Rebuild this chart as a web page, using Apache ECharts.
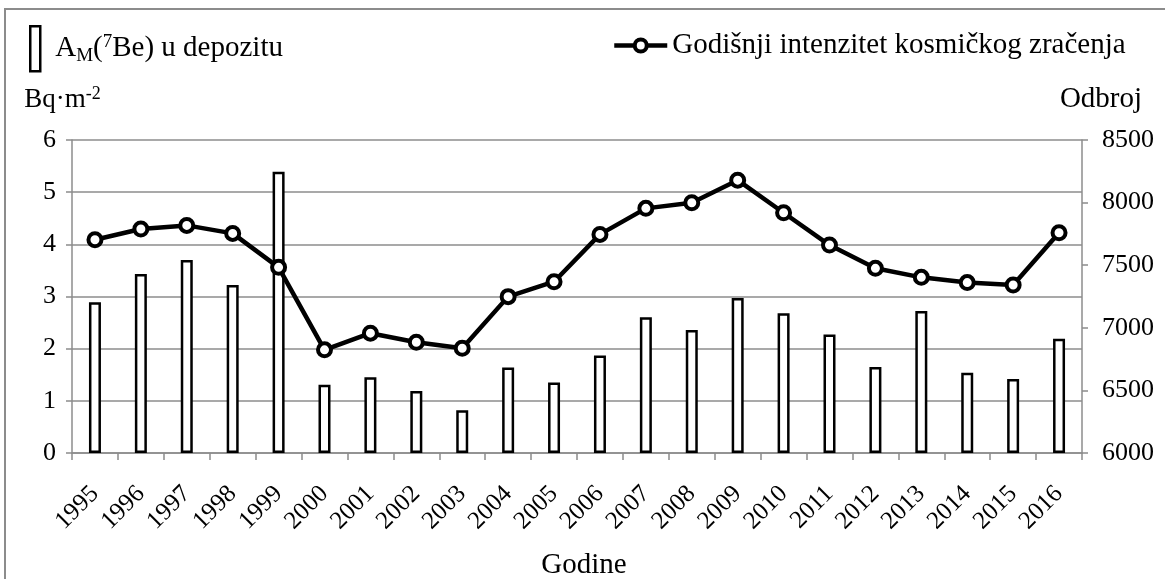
<!DOCTYPE html>
<html>
<head>
<meta charset="utf-8">
<script src="https://cdn.jsdelivr.net/npm/echarts@6/dist/echarts.min.js"></script>
<style>
  html, body { margin: 0; padding: 0; background: #fff; }
  #chart { width: 1165px; height: 579px; }
</style>
</head>
<body>
<div id="chart"></div>
<script>
// Years on the category axis
var years = ['1995','1996','1997','1998','1999','2000','2001','2002','2003','2004','2005',
             '2006','2007','2008','2009','2010','2011','2012','2013','2014','2015','2016'];

// Annual 7Be activity in deposition (Bq·m-2)
var beActivity = [2.89, 3.43, 3.70, 3.22, 5.39, 1.31, 1.45, 1.19, 0.82, 1.64, 1.35,
                  1.87, 2.60, 2.36, 2.97, 2.68, 2.27, 1.65, 2.72, 1.54, 1.42, 2.19];

// Annual cosmic-ray intensity (counts)
var cosmicCounts = [7703, 7789, 7818, 7754, 7483, 6824, 6957, 6885, 6837, 7249, 7368,
                    7746, 7954, 7999, 8179, 7919, 7661, 7475, 7403, 7361, 7342, 7759];

// Axis tick values
var leftTicks = [0, 1, 2, 3, 4, 5, 6];
var rightTicks = [6000, 6500, 7000, 7500, 8000, 8500];

var barName = 'AM(7Be) u depozitu';
var lineName = 'Godišnji intenzitet kosmičkog zračenja';

var FONT = '"Liberation Serif", "DejaVu Serif", serif';
var GRID_COLOR = '#8c8c8c';

var chart = echarts.init(document.getElementById('chart'), null, { renderer: 'canvas' });

chart.setOption({
  backgroundColor: '#ffffff',
  animation: false,
  textStyle: { fontFamily: FONT, color: '#000' },
  graphic: [{
    type: 'rect',
    shape: { x: 5, y: 9, width: 1200, height: 620 },
    style: { fill: 'none', stroke: '#8c8c8c', lineWidth: 2 },
    silent: true
  }],
  legend: [{
    data: [barName],
    left: 24,
    top: 20,
    itemWidth: 10,
    itemHeight: 45,
    icon: 'rect',
    itemStyle: { color: '#fff', borderColor: '#000', borderWidth: 2.5 },
    formatter: function () {
      return '{lead|A}{sub|M}{t|(}{sup|7}{t|Be) u depozitu}';
    },
    textStyle: {
      fontFamily: FONT,
      rich: {
        lead: { fontFamily: FONT, fontSize: 29, color: '#000', padding: [0, 0, 0, 10] },
        t: { fontFamily: FONT, fontSize: 29, color: '#000' },
        sub: { fontFamily: FONT, fontSize: 19, color: '#000', verticalAlign: 'bottom', padding: [14, 0, 0, 0] },
        sup: { fontFamily: FONT, fontSize: 19, color: '#000', verticalAlign: 'top', padding: [0, 0, 12, 0] }
      }
    }
  }, {
    data: [lineName],
    left: 607,
    top: 26,
    itemWidth: 53,
    itemHeight: 15,
    lineStyle: { color: '#000', width: 4.5 },
    itemStyle: { color: '#fff', borderColor: '#000', borderWidth: 4 },
    textStyle: { fontFamily: FONT, fontSize: 29, color: '#000' }
  }],
  grid: { left: 72, right: 83, top: 140, bottom: 126, containLabel: false, outerBoundsMode: 'none' },
  xAxis: {
    type: 'category',
    data: years,
    boundaryGap: true,
    name: 'Godine',
    nameLocation: 'middle',
    nameGap: 98,
    nameTextStyle: { fontFamily: FONT, fontSize: 29, color: '#000', padding: [0, 0, 0, 14] },
    axisLine: { lineStyle: { color: GRID_COLOR, width: 1.5 } },
    axisTick: { show: true, length: 7, lineStyle: { color: GRID_COLOR, width: 1.5 } },
    axisLabel: {
      rotate: 45,
      margin: 37,
      fontFamily: FONT,
      fontSize: 25,
      color: '#000',
      interval: 0
    }
  },
  yAxis: [{
    type: 'value',
    min: leftTicks[0],
    max: leftTicks[leftTicks.length - 1],
    interval: 1,
    name: '{t|Bq·m}{sup|-2}',
    nameLocation: 'end',
    nameGap: 26,
    nameTextStyle: {
      padding: [0, 19, 0, 0],
      rich: {
        t: { fontFamily: FONT, fontSize: 27, color: '#000' },
        sup: { fontFamily: FONT, fontSize: 18, color: '#000', verticalAlign: 'top', padding: [0, 0, 11, 0] }
      }
    },
    axisLine: { show: true, lineStyle: { color: GRID_COLOR, width: 1.5 } },
    axisTick: { show: true, length: 6, lineStyle: { color: GRID_COLOR, width: 1.5 } },
    axisLabel: { margin: 16, fontFamily: FONT, fontSize: 26, color: '#000' },
    splitLine: { show: true, lineStyle: { color: GRID_COLOR, width: 1.5 } }
  }, {
    type: 'value',
    position: 'right',
    min: rightTicks[0],
    max: rightTicks[rightTicks.length - 1],
    interval: 500,
    name: 'Odbroj',
    nameLocation: 'end',
    nameGap: 26,
    nameTextStyle: { fontFamily: FONT, fontSize: 29, color: '#000', padding: [0, 0, 0, 38] },
    axisLine: { show: true, lineStyle: { color: GRID_COLOR, width: 1.5 } },
    axisTick: { show: true, length: 6, lineStyle: { color: GRID_COLOR, width: 1.5 } },
    axisLabel: {
      margin: 20, fontFamily: FONT, fontSize: 26, color: '#000',
      formatter: function (v) { return String(v); }
    },
    splitLine: { show: false }
  }],
  series: [{
    name: barName,
    type: 'bar',
    yAxisIndex: 0,
    data: beActivity,
    barWidth: 12,
    itemStyle: { color: '#fff', borderColor: '#000', borderWidth: 2.5 }
  }, {
    name: lineName,
    type: 'line',
    yAxisIndex: 1,
    data: cosmicCounts,
    symbol: 'circle',
    symbolSize: 13,
    lineStyle: { color: '#000', width: 4.5 },
    itemStyle: { color: '#fff', borderColor: '#000', borderWidth: 4 },
    z: 5
  }]
});
</script>
</body>
</html>
